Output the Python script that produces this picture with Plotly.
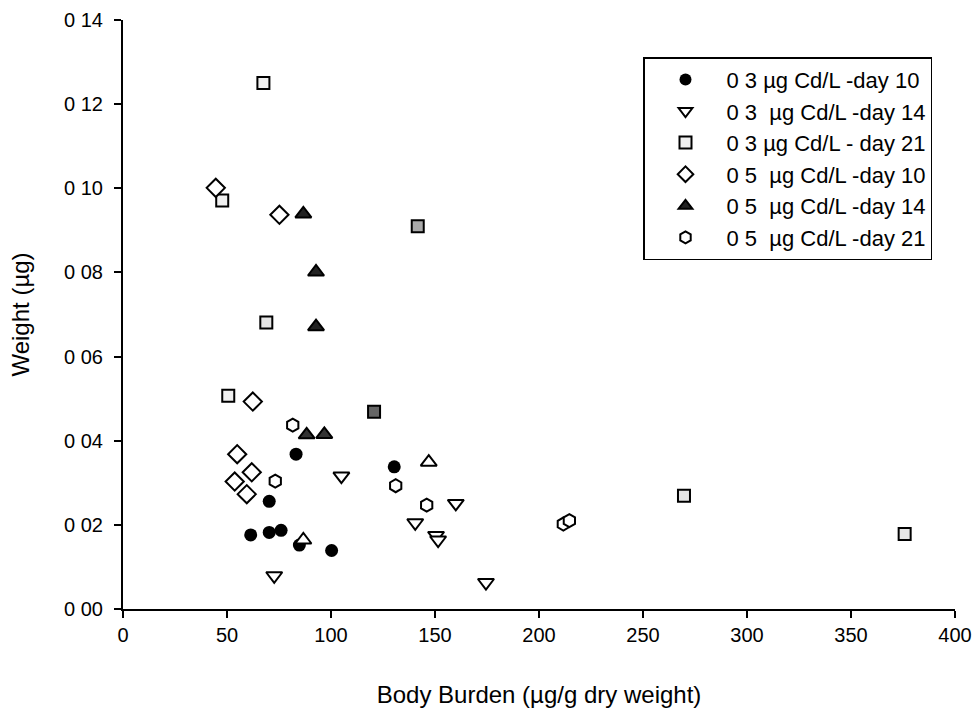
import plotly.graph_objects as go

# ---- data ----
names = ["0 3 µg Cd/L -day 10", "0 3  µg Cd/L -day 14", "0 3 µg Cd/L - day 21",
         "0 5  µg Cd/L -day 10", "0 5  µg Cd/L -day 14", "0 5  µg Cd/L -day 21"]

c03_d10_x = [61.4, 70.3, 76.0, 84.8, 100.3, 70.3, 83.2, 130.4]
c03_d10_y = [0.0176, 0.0182, 0.0187, 0.0152, 0.0139, 0.0256, 0.0368, 0.0338]

c03_d14_x = [72.7, 105.0, 140.5, 150.5, 151.5, 160.0, 174.5]
c03_d14_y = [0.0079, 0.0316, 0.0205, 0.0175, 0.0164, 0.0251, 0.0063]

c03_d21_x = [67.5, 47.7, 68.9, 141.7, 50.6, 120.7, 269.7, 375.8]
c03_d21_y = [0.125, 0.0971, 0.0681, 0.0910, 0.0507, 0.0469, 0.0269, 0.0178]

c05_d10_x = [44.6, 75.2, 62.4, 54.9, 61.9, 53.7, 59.5]
c05_d10_y = [0.1001, 0.0937, 0.0493, 0.0368, 0.0325, 0.0303, 0.0273]

c05_d14_x = [86.7, 92.8, 92.8, 88.3, 96.8, 147.0, 86.7]
c05_d14_y = [0.0939, 0.0801, 0.0671, 0.0414, 0.0415, 0.0349, 0.0164]

c05_d21_x = [81.6, 73.2, 131.1, 146.0, 211.7, 214.6]
c05_d21_y = [0.0437, 0.0304, 0.0293, 0.0247, 0.0202, 0.0210]

x_ticks = [0, 50, 100, 150, 200, 250, 300, 350, 400]
y_ticks = [0.00, 0.02, 0.04, 0.06, 0.08, 0.10, 0.12, 0.14]
y_ticktext = ["0 00", "0 02", "0 04", "0 06", "0 08", "0 10", "0 12", "0 14"]

# ---- styles ----
sq_fill = ["#f0f0f0", "#f0f0f0", "#e6e6e6", "#aaaaaa", "#f0f0f0", "#666666", "#e6e6e6", "#e6e6e6"]
tri_fill = ["#222222", "#222222", "#222222", "#333333", "#333333", "white", "white"]

series = [
    (c03_d10_x, c03_d10_y, dict(symbol="circle", size=13, color="black", line=dict(color="black", width=0))),
    (c03_d14_x, c03_d14_y, dict(symbol="triangle-down", size=14, color="white", line=dict(color="black", width=2))),
    (c03_d21_x, c03_d21_y, dict(symbol="square", size=12, color=sq_fill, line=dict(color="black", width=2))),
    (c05_d10_x, c05_d10_y, dict(symbol="diamond", size=14, color="white", line=dict(color="black", width=2))),
    (c05_d14_x, c05_d14_y, dict(symbol="triangle-up", size=14, color=tri_fill, line=dict(color="black", width=2))),
    (c05_d21_x, c05_d21_y, dict(symbol="hexagon", size=13, color="white", line=dict(color="black", width=2))),
]

fig = go.Figure()
for i, (xs, ys, mk) in enumerate(series):
    fig.add_trace(go.Scatter(x=xs, y=ys, mode="markers", name=names[i], marker=mk))

font_family = "Liberation Sans, Arial, sans-serif"
fig.update_layout(
    width=978, height=713,
    margin=dict(l=123, r=23, t=20, b=104),
    paper_bgcolor="white", plot_bgcolor="white",
    font=dict(family=font_family, color="black", size=20),
    showlegend=True,
    legend=dict(x=0.625, y=0.937, xanchor="left", yanchor="top",
                bordercolor="black", borderwidth=1.5, bgcolor="white",
                font=dict(size=22, color="black"),
                itemwidth=72, itemsizing="constant"),
    xaxis=dict(range=[0, 400], tickvals=x_ticks, showgrid=False, zeroline=False,
               showline=True, linecolor="black", linewidth=2, automargin=False,
               ticks="outside", ticklen=7, tickwidth=1.5, tickcolor="black",
               tickfont=dict(size=20),
               title=dict(text="Body Burden (µg/g dry weight)", font=dict(size=24), standoff=41)),
    yaxis=dict(range=[0, 0.14], tickvals=y_ticks, ticktext=y_ticktext, showgrid=False,
               zeroline=False, showline=True, linecolor="black", linewidth=2, automargin=False,
               ticks="outside", ticklen=7, tickwidth=1.5, tickcolor="black",
               tickfont=dict(size=20), ticklabelstandoff=7,
               title=dict(text="Weight (µg)", font=dict(size=24), standoff=28)),
)

fig.write_html("out.html")
